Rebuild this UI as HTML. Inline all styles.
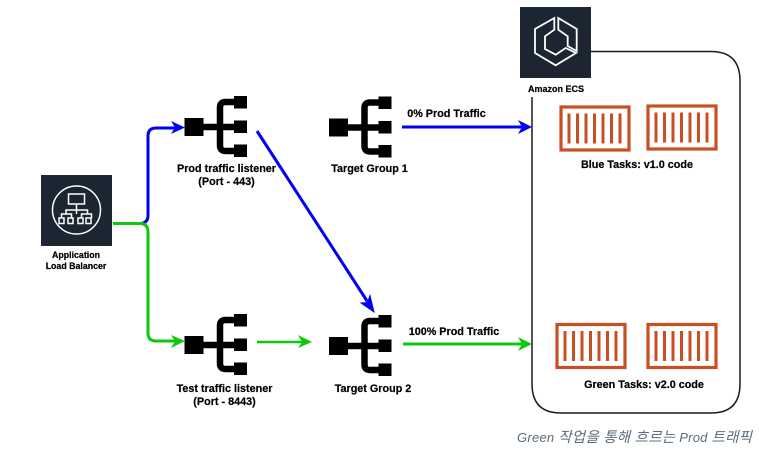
<!DOCTYPE html>
<html><head><meta charset="utf-8">
<style>
html,body{margin:0;padding:0;background:#fff;width:759px;height:459px;overflow:hidden}
svg{display:block;position:absolute;left:0;top:0}
text{font-family:"Liberation Sans","Noto Sans CJK KR",sans-serif;font-weight:bold;font-size:10.800px;fill:#000;stroke:#000;stroke-width:.2px;text-anchor:middle}
</style></head><body>
<svg width="759" height="459" viewBox="0 0 759 459" xmlns="http://www.w3.org/2000/svg">
<defs>
<filter id="b" x="0" y="0" width="100%" height="100%" filterUnits="objectBoundingBox"><feGaussianBlur stdDeviation="0.35"/></filter>
<g id="tree">
<rect x="0" y="22" width="19" height="18"/>
<rect x="49.500" y="0" width="13" height="12.500"/>
<rect x="49.500" y="24.500" width="13" height="12.500"/>
<rect x="49.500" y="48.500" width="13" height="12.500"/>
<path d="M19 31H52M52 6H41Q35.500 6 35.500 11.500V49.500Q35.500 55 41 55H52" fill="none" stroke="#000" stroke-width="6.500"/>
</g>
<g id="box">
<rect x="1.500" y="1.500" width="68" height="43" fill="#fff" stroke="#c94f20" stroke-width="3.200"/>
<path d="M9.500 8V38M18 8V38M26.500 8V38M35 8V38M43.500 8V38M52 8V38M60.500 8V38" stroke="#c94f20" stroke-width="3" fill="none"/>
</g>
</defs>
<g filter="url(#b)">
<rect x="0" y="0" width="759" height="459" fill="#fff"/>
<path d="M591 51.500H711Q740 51.500 740 81V384Q740 413 711 413H561Q532 413 532 384V97" fill="none" stroke="#1a1a1a" stroke-width="1.500"/>

<rect x="520" y="7" width="71" height="71" fill="#1b2533"/>
<g fill="none" stroke="#fff" stroke-width="1.800" stroke-linejoin="miter">
<path d="M554.300 18L535 29V53L555.700 65.300L576 53L565.700 48L555.700 54.700L545 49V36.300L554.300 29.700Z"/>
<path d="M558.300 18L576.700 29V51L567.700 46V36.300L558.300 29.700Z"/>
</g>
<text x="556" y="92" style="font-size:9px">Amazon ECS</text>

<rect x="41" y="175" width="71" height="71" fill="#1b2533"/>
<g fill="none" stroke="#fff" stroke-width="1.500">
<circle cx="76.500" cy="210" r="24"/>
<rect x="68.500" y="194" width="16" height="10"/>
<path d="M76.500 204V210M66 214V210H87.500V214M76.500 210V214"/>
<path d="M61.500 218V214H71.500V218M81.500 218V214H91.500V218"/>
<rect x="59" y="218" width="5" height="5.500"/>
<rect x="68" y="218" width="5" height="5.500"/>
<rect x="78" y="218" width="5" height="5.500"/>
<rect x="86" y="218" width="5" height="5.500"/>
</g>
<text x="76" y="258" style="font-size:8.800px">Application</text>
<text x="76" y="269" style="font-size:8.800px">Load Balancer</text>

<use href="#tree" x="184.500" y="96"/>
<use href="#tree" x="184.500" y="314"/>
<use href="#tree" x="329" y="96.500"/>
<use href="#tree" x="329" y="315"/>

<path d="M138 223.500H140Q148 223.500 148 215V136Q148 128 156 128H178" fill="none" stroke="#0000f5" stroke-width="3"/>
<path d="M185 127.500L171 121L175 127.500L171 134Z" fill="#0000f5"/>
<path d="M113 223.500H140Q148 223.500 148 232V333Q148 341 156 341H178" fill="none" stroke="#10c810" stroke-width="3"/>
<path d="M185 341L171 335L175 341L171 348Z" fill="#10c810"/>

<path d="M257 131L369 304" stroke="#0000f5" stroke-width="3" fill="none"/>
<path d="M374 312L361 303L367.500 302.500L370 295.500Z" fill="#0000f5" stroke="#0000f5"/>

<path d="M257 342H304" stroke="#10c810" stroke-width="2.500" fill="none"/>
<path d="M312 342L298 335L302 342L298 348Z" fill="#10c810"/>

<path d="M402 127H525" stroke="#0000f5" stroke-width="3" fill="none"/>
<path d="M532 127L518 120L522 127L518 134Z" fill="#0000f5"/>

<path d="M403 344H525" stroke="#10c810" stroke-width="3" fill="none"/>
<path d="M532 344L518 337L522 344L518 351Z" fill="#10c810"/>

<use href="#box" x="559.500" y="105.500"/>
<use href="#box" x="646.500" y="104.500"/>
<use href="#box" x="555.500" y="323"/>
<use href="#box" x="646.500" y="323"/>

<text x="226.500" y="172">Prod traffic listener</text>
<text x="226.500" y="185">(Port - 443)</text>
<text x="224.500" y="392">Test traffic listener</text>
<text x="224.500" y="405">(Port - 8443)</text>
<text x="369.500" y="172">Target Group 1</text>
<text x="373" y="392">Target Group 2</text>
<text x="446.500" y="117">0% Prod Traffic</text>
<text x="454" y="335">100% Prod Traffic</text>
<text x="637" y="168">Blue Tasks: v1.0 code</text>
<text x="644" y="388">Green Tasks: v2.0 code</text>
</g>
<text x="517" y="442" textLength="235" lengthAdjust="spacing" style="text-anchor:start;font-weight:normal;font-style:italic;font-size:14.500px;fill:#5b6b7c;stroke:none"><tspan style="font-size:13px">Green </tspan>작업을 통해 흐르는<tspan style="font-size:13px"> Prod </tspan>트래픽</text>
</svg>
</body></html>
